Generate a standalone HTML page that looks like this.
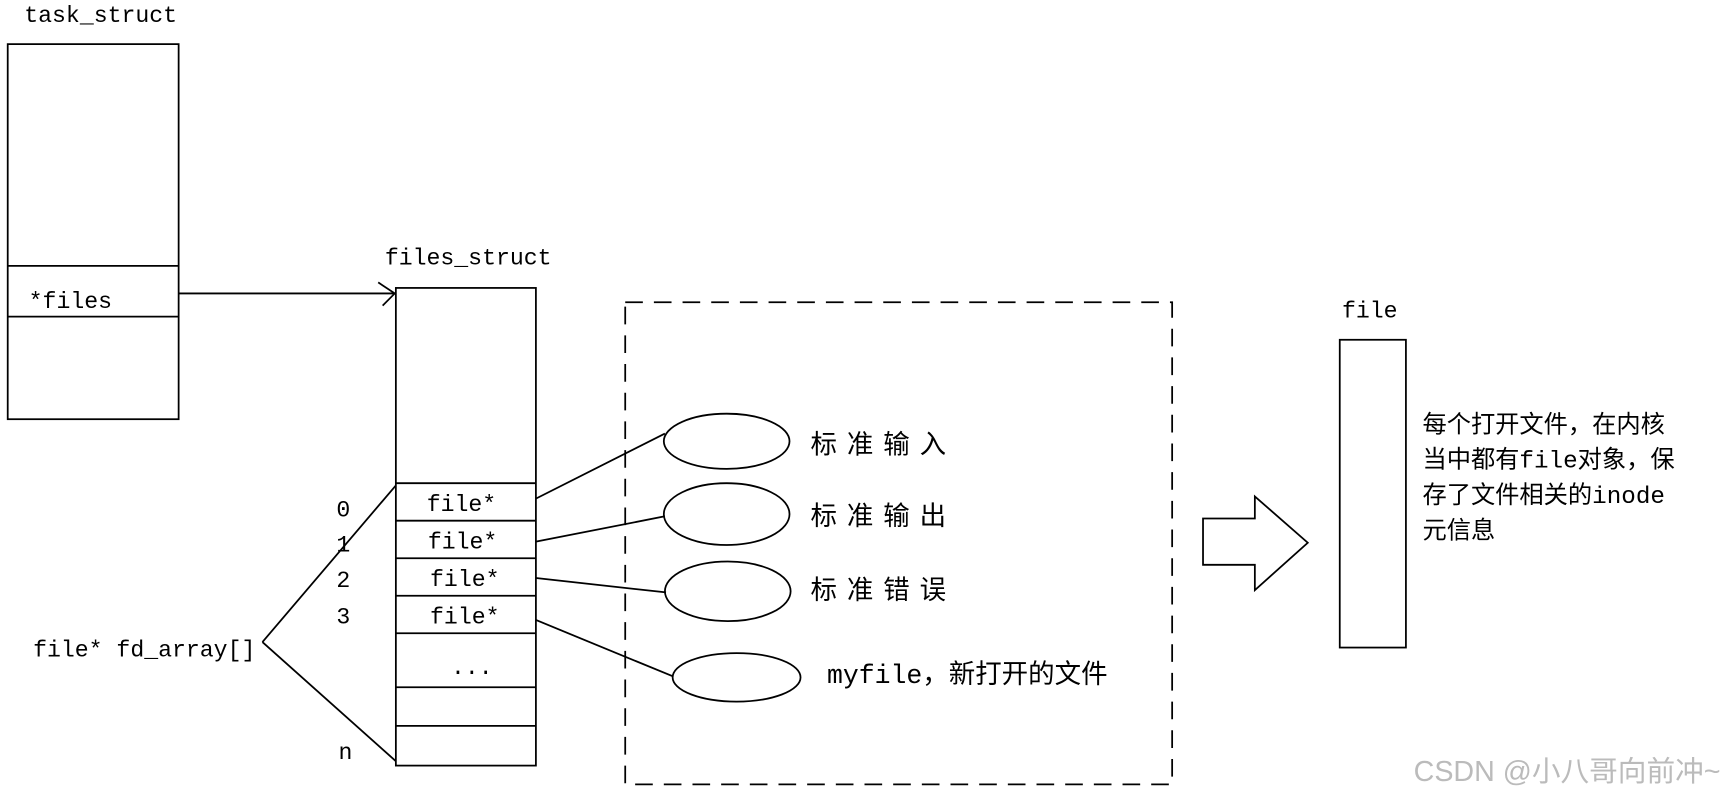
<!DOCTYPE html>
<html><head><meta charset="utf-8"><style>
html,body{margin:0;padding:0;background:#fff;}
svg{display:block;}
text{font-family:"Liberation Mono","Noto Sans CJK SC",monospace;fill:#000;}
</style></head><body>
<svg width="1729" height="802" viewBox="0 0 1568 727" preserveAspectRatio="none" xmlns="http://www.w3.org/2000/svg">
<g fill="none" stroke="#000" stroke-width="1.6">
<rect x="7" y="40" width="155" height="340"/>
<line x1="7" y1="241" x2="162" y2="241"/>
<line x1="7" y1="287" x2="162" y2="287"/>
<line x1="162" y1="266" x2="358" y2="266"/>
<polyline points="343,256 358,266 347,277"/>
<rect x="359" y="261" width="127" height="433"/>
<line x1="359" y1="438" x2="486" y2="438"/>
<line x1="359" y1="472" x2="486" y2="472"/>
<line x1="359" y1="506" x2="486" y2="506"/>
<line x1="359" y1="540" x2="486" y2="540"/>
<line x1="359" y1="574" x2="486" y2="574"/>
<line x1="359" y1="623" x2="486" y2="623"/>
<line x1="359" y1="658" x2="486" y2="658"/>
<line x1="238" y1="582" x2="359" y2="440"/>
<line x1="238" y1="582" x2="359" y2="690"/>
<rect x="567" y="274" width="496" height="437" stroke-dasharray="16,10"/>
<ellipse cx="659" cy="400" rx="57" ry="25"/>
<ellipse cx="659" cy="466" rx="57" ry="28"/>
<ellipse cx="660" cy="536" rx="57" ry="27"/>
<ellipse cx="668" cy="614" rx="58" ry="22"/>
<line x1="486" y1="452" x2="603" y2="393"/>
<line x1="486" y1="491" x2="603" y2="468"/>
<line x1="486" y1="524" x2="604" y2="537"/>
<line x1="486" y1="562" x2="610" y2="613"/>
<polygon points="1091,470 1138,470 1138,450 1186,492 1138,535 1138,512 1091,512"/>
<rect x="1215" y="308" width="60" height="279"/>
</g>
<g font-size="21">
<text x="22" y="20">task_struct</text>
<text x="26" y="279">*files</text>
<text x="349" y="240">files_struct</text>
<text x="387" y="463">file*</text>
<text x="388" y="497">file*</text>
<text x="390" y="531">file*</text>
<text x="390" y="565">file*</text>
<text x="409" y="611">...</text>
<text x="305" y="468">0</text>
<text x="305" y="500">1</text>
<text x="305" y="532">2</text>
<text x="305" y="565">3</text>
<text x="307" y="688">n</text>
<text x="30" y="595">file* fd_array[]</text>
<text x="1217" y="288">file</text>
</g>
<g font-size="24">
<text x="735" y="411" letter-spacing="9">标准输入</text>
<text x="735" y="476" letter-spacing="9">标准输出</text>
<text x="735" y="543" letter-spacing="9">标准错误</text>
<text x="750" y="619">myfile，新打开的文件</text>
</g>
<g font-size="22">
<text x="1290" y="392">每个打开文件，在内核</text>
<text x="1290" y="424">当中都有file对象，保</text>
<text x="1290" y="456">存了文件相关的inode</text>
<text x="1290" y="488">元信息</text>
</g>
<text x="1282" y="708" font-size="26" style="font-family:'Liberation Sans','Noto Sans CJK SC',sans-serif;fill:#bbb">CSDN @小八哥向前冲~</text>
</svg>
</body></html>
